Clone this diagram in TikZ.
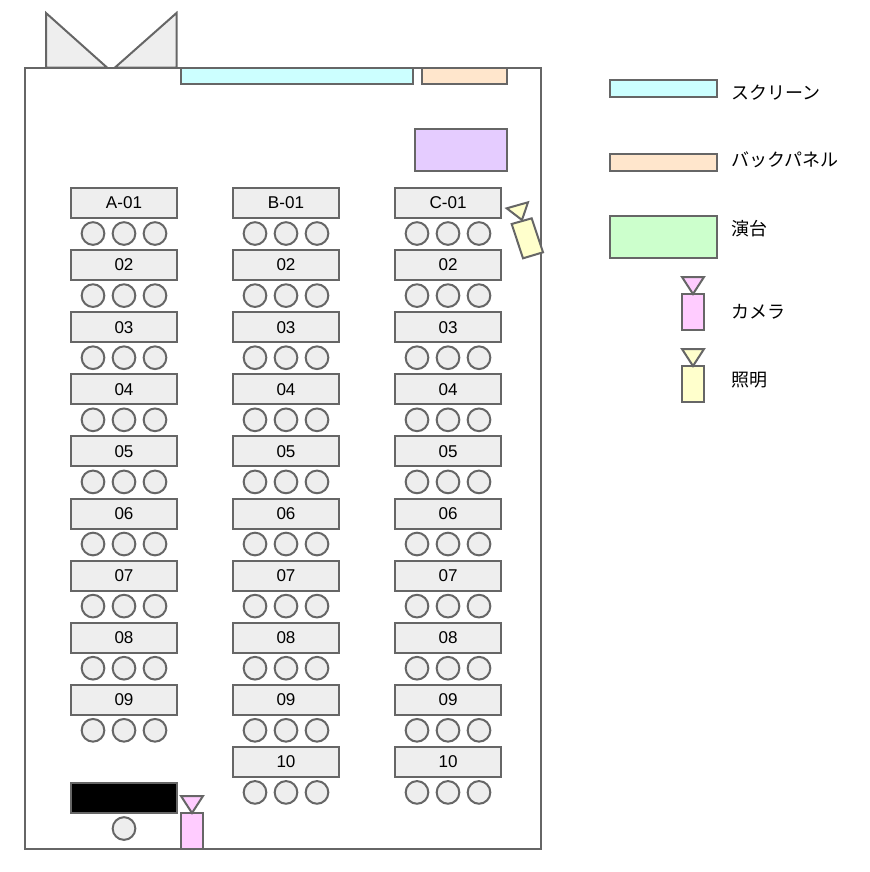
\documentclass[tikz,border=0pt]{standalone}
\usepackage{fontspec}
\setmainfont{Liberation Sans}
\newfontfamily\jpfont{Noto Sans CJK JP}
\definecolor{ln}{HTML}{666666}
\definecolor{tbl}{HTML}{EEEEEE}
\definecolor{scr}{HTML}{CCFFFF}
\definecolor{pnl}{HTML}{FFE6CC}
\definecolor{stg}{HTML}{CCFFCC}
\definecolor{cam}{HTML}{FFCCFF}
\definecolor{lit}{HTML}{FFFFCC}
\definecolor{pur}{HTML}{E5CCFF}
\tikzset{
  shp/.style={draw=ln,line width=1.5pt,line join=miter},
  tablebox/.style={shp,fill=tbl,minimum width=79.5pt,minimum height=22.5pt,inner sep=0pt,font=\fontsize{12.8}{14}\selectfont,anchor=center},
  seat/.style={shp,circle,fill=tbl,minimum size=17pt,inner sep=0pt},
  legendtext/.style={anchor=west,inner sep=0pt,font=\jpfont\fontsize{13.5}{15}\selectfont},
}
\begin{document}
\begin{tikzpicture}[x=0.75pt,y=-0.75pt]
\useasboundingbox (0,0) rectangle (869,872);
% room
\draw[shp,fill=white] (25,67.5) rectangle (541,849);
\draw[shp,fill=tbl] (46,13) -- (46,67.5) -- (107,67.5) -- cycle;
\draw[shp,fill=tbl] (176.5,13) -- (176.5,67.5) -- (115,67.5) -- cycle;
\draw[shp,fill=scr] (181,67.5) rectangle (413,84);
\draw[shp,fill=pnl] (422,67.5) rectangle (507,84);
\draw[shp,fill=pur] (415,129) rectangle (507,171);
% tables and seats
\foreach \col/\cx/\pre/\last in {a/124/A/9,b/286/B/10,c/448/C/10}{
  \foreach \r in {1,...,\last}{
    \pgfmathsetmacro{\ty}{203+(\r-1)*62.1}
    \pgfmathsetmacro{\sy}{\ty+30.5}
    \ifnum\r=1 \def\lbl{\pre-01}\else\ifnum\r=10 \def\lbl{10}\else\def\lbl{0\r}\fi\fi
    \node[tablebox] (t\col\r) at (\cx,\ty) {\raisebox{-0.5pt}{\lbl}};
    \node[seat] (s\col\r l) at (\cx-31,\sy) {};
    \node[seat] (s\col\r m) at (\cx,\sy) {};
    \node[seat] (s\col\r r) at (\cx+31,\sy) {};
  }
}
% operator desk
\draw[shp,fill=black] (71,783) rectangle (177,813);
\node[seat] (opseat) at (124,828.5) {};
% camera in the room
\draw[shp,fill=cam] (181,813) rectangle (203,849);
\draw[shp,fill=cam] (181,796) -- (203,796) -- (192,813) -- cycle;
% tilted light
\draw[shp,fill=lit] (511.7,224) -- (531.7,218.3) -- (543,252.3) -- (523,258.3) -- cycle;
\draw[shp,fill=lit] (506.7,208.3) -- (528,202.3) -- (522,220) -- cycle;
% legend
\draw[shp,fill=scr] (610,80) rectangle (717,97);
\node[legendtext] (l1) at (731,92.5) {スクリーン};
\draw[shp,fill=pnl] (610,154) rectangle (717,171);
\node[legendtext] (l2) at (731,160) {バックパネル};
\draw[shp,fill=stg] (610,215.5) rectangle (717,258);
\node[legendtext] (l3) at (731,228.5) {演台};
\draw[shp,fill=cam] (682,294) rectangle (704,330);
\draw[shp,fill=cam] (682,277) -- (704,277) -- (693,294) -- cycle;
\node[legendtext] (l4) at (731,311.5) {カメラ};
\draw[shp,fill=lit] (682,366) rectangle (704,402);
\draw[shp,fill=lit] (682,349) -- (704,349) -- (693,366) -- cycle;
\node[legendtext] (l5) at (731,380.5) {照明};
\end{tikzpicture}
\end{document}
